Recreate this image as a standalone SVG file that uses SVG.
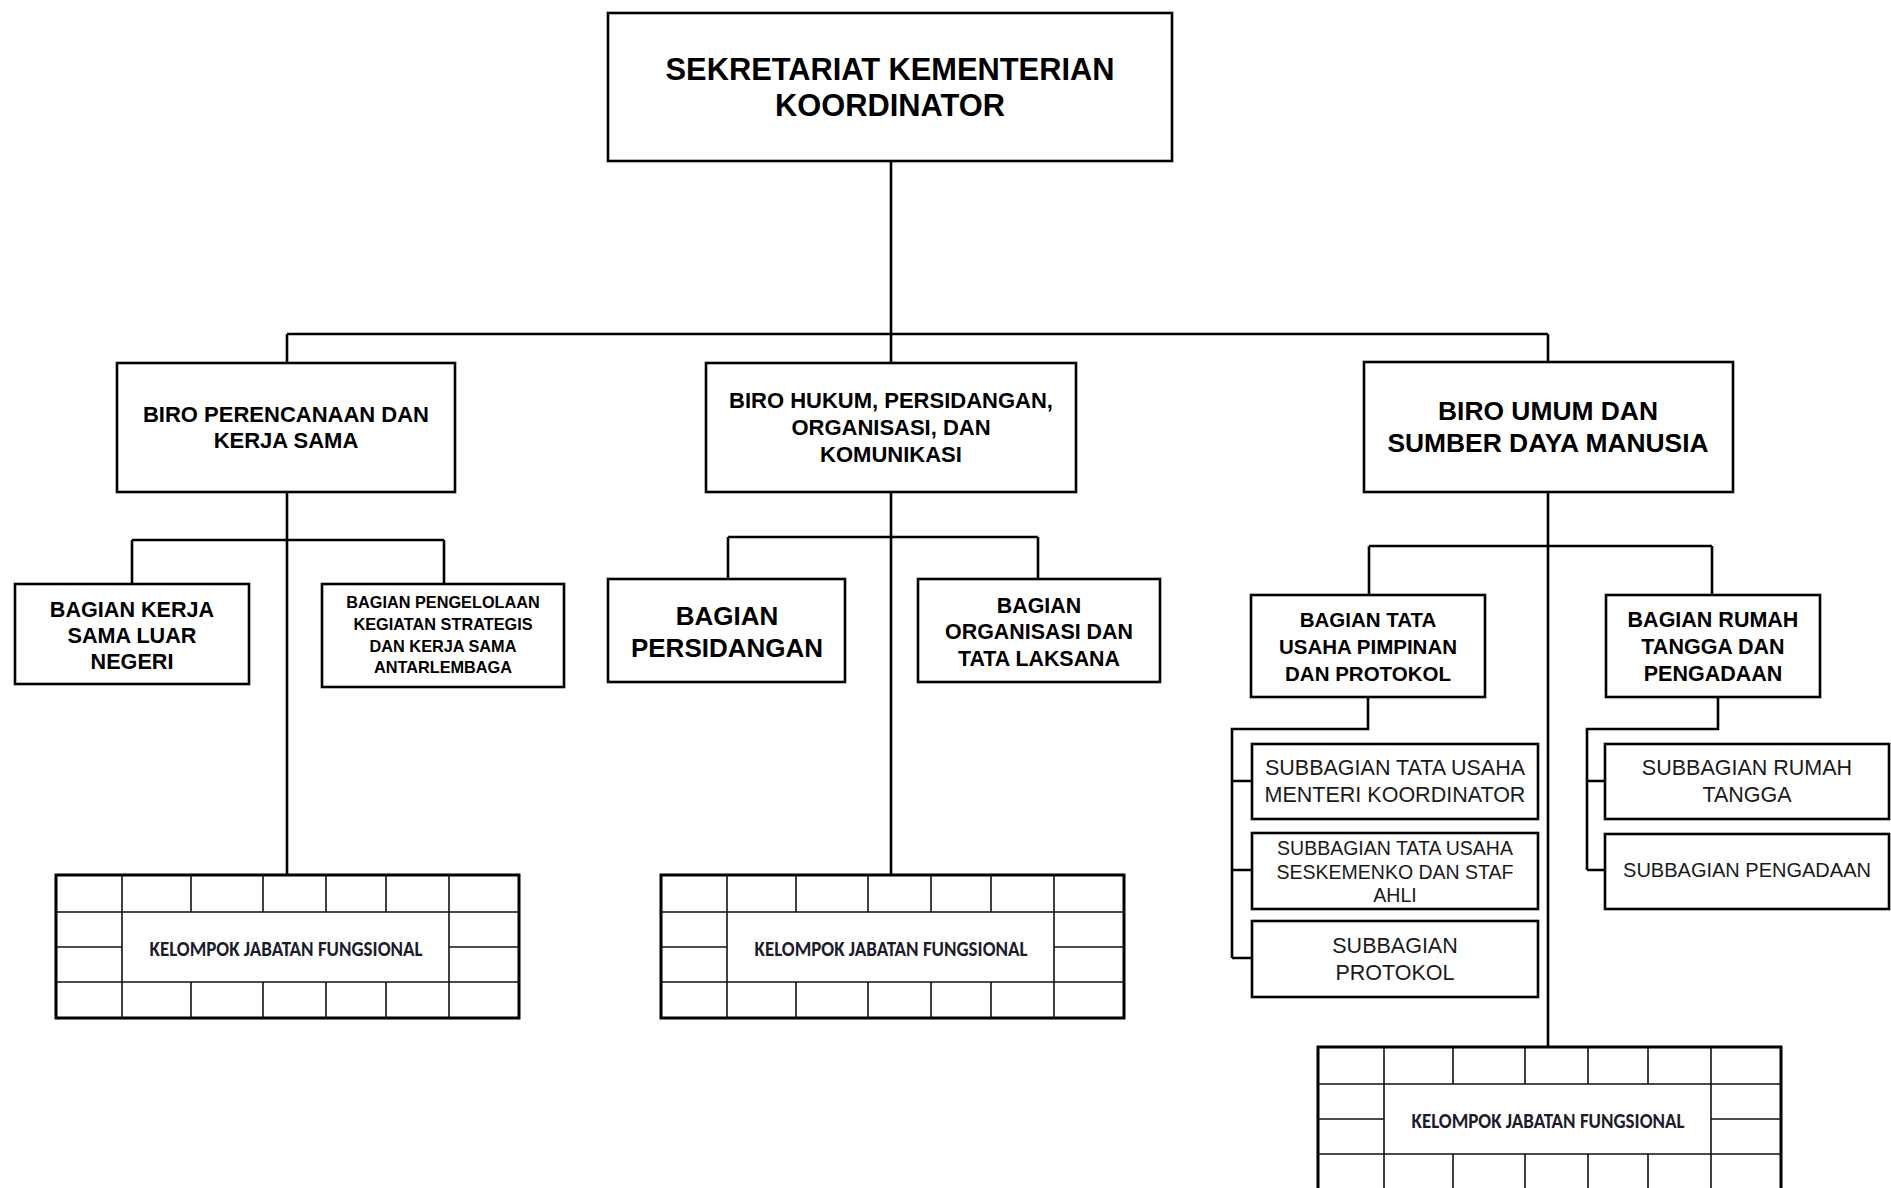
<svg xmlns="http://www.w3.org/2000/svg" xmlns:xlink="http://www.w3.org/1999/xlink" width="1891" height="1188" viewBox="0 0 1891 1188">
<style>
.box{fill:#fff;stroke:#000;stroke-width:2.6}
.con{fill:none;stroke:#000;stroke-width:2.6}
.b{font-family:"Liberation Sans",Arial,sans-serif;font-weight:bold;fill:#000;text-anchor:middle}
.r{font-family:"Liberation Sans",Arial,sans-serif;fill:#1a1a1a;text-anchor:middle}
.k{font-family:"Carlito","Lato","Liberation Sans",sans-serif;font-weight:bold;fill:#1b1b2b;text-anchor:middle}
.gi{stroke:#111;stroke-width:1.6;fill:none}
.go{stroke:#000;stroke-width:2.6;fill:#fff}
</style>
<defs>
<g id="grid">
<rect class="go" x="0" y="0" width="463" height="143"/>
<path class="gi" d="M0 37H463M0 107H463M0 72H66M393 72H463M66 0V143M393 0V143M135 0V37M207 0V37M270 0V37M330 0V37M135 107V143M207 107V143M270 107V143M330 107V143"/>
<rect class="go" x="0" y="0" width="463" height="143" style="fill:none"/>
</g>
</defs>

<g id="connectors">
<path class="con" d="M891 161V334M287 334H1548M287 334V363M891 334V363M1548 334V362"/>
<path class="con" d="M287 492V875M132 540H444M132 540V584M444 540V584"/>
<path class="con" d="M891 492V875M728 537H1038M728 537V579M1038 537V579"/>
<path class="con" d="M1548 492V1047M1369 546H1712M1369 546V595M1712 546V595"/>
<path class="con" d="M1368 697V729H1232V958M1232 781H1252M1232 870H1252M1232 958H1252"/>
<path class="con" d="M1718 697V729H1587V870M1587 781H1605M1587 870H1605"/>
</g>

<g id="sekretariat">
<rect class="box" x="608" y="13" width="564" height="148"/>
<text class="b" font-size="30.8" x="890" y="80">SEKRETARIAT KEMENTERIAN</text>
<text class="b" font-size="30.8" x="890" y="116">KOORDINATOR</text>
</g>

<g id="biro-perencanaan">
<rect class="box" x="117" y="363" width="338" height="129"/>
<text class="b" font-size="22" x="286" y="422">BIRO PERENCANAAN DAN</text>
<text class="b" font-size="22" x="286" y="448">KERJA SAMA</text>
</g>

<g id="biro-hukum">
<rect class="box" x="706" y="363" width="370" height="129"/>
<text class="b" font-size="22" x="891" y="408">BIRO HUKUM, PERSIDANGAN,</text>
<text class="b" font-size="22" x="891" y="435">ORGANISASI, DAN</text>
<text class="b" font-size="22" x="891" y="462">KOMUNIKASI</text>
</g>

<g id="biro-umum">
<rect class="box" x="1364" y="362" width="369" height="130"/>
<text class="b" font-size="26.4" x="1548" y="420">BIRO UMUM DAN</text>
<text class="b" font-size="26.4" x="1548" y="452">SUMBER DAYA MANUSIA</text>
</g>

<g id="bagian-kerja-sama-luar-negeri">
<rect class="box" x="15" y="584" width="234" height="100"/>
<text class="b" font-size="21.6" x="132" y="617">BAGIAN KERJA</text>
<text class="b" font-size="21.6" x="132" y="643">SAMA LUAR</text>
<text class="b" font-size="21.6" x="132" y="669">NEGERI</text>
</g>

<g id="bagian-pengelolaan">
<rect class="box" x="322" y="584" width="242" height="103"/>
<text class="b" font-size="16.3" x="443" y="608">BAGIAN PENGELOLAAN</text>
<text class="b" font-size="16.3" x="443" y="630">KEGIATAN STRATEGIS</text>
<text class="b" font-size="16.3" x="443" y="652">DAN KERJA SAMA</text>
<text class="b" font-size="16.3" x="443" y="673">ANTARLEMBAGA</text>
</g>

<g id="bagian-persidangan">
<rect class="box" x="608" y="579" width="237" height="103"/>
<text class="b" font-size="26" x="727" y="625">BAGIAN</text>
<text class="b" font-size="26" x="727" y="657">PERSIDANGAN</text>
</g>

<g id="bagian-organisasi">
<rect class="box" x="918" y="579" width="242" height="103"/>
<text class="b" font-size="21.4" x="1039" y="613">BAGIAN</text>
<text class="b" font-size="21.4" x="1039" y="639">ORGANISASI DAN</text>
<text class="b" font-size="21.4" x="1039" y="666">TATA LAKSANA</text>
</g>

<g id="bagian-tata-usaha">
<rect class="box" x="1251" y="595" width="234" height="102"/>
<text class="b" font-size="20.5" x="1368" y="627">BAGIAN TATA</text>
<text class="b" font-size="20.5" x="1368" y="654">USAHA PIMPINAN</text>
<text class="b" font-size="20.5" x="1368" y="681">DAN PROTOKOL</text>
</g>

<g id="bagian-rumah-tangga">
<rect class="box" x="1606" y="595" width="214" height="102"/>
<text class="b" font-size="21.5" x="1713" y="627">BAGIAN RUMAH</text>
<text class="b" font-size="21.5" x="1713" y="654">TANGGA DAN</text>
<text class="b" font-size="21.5" x="1713" y="681">PENGADAAN</text>
</g>

<g id="subbagian-tu-menteri">
<rect class="box" x="1252" y="744" width="286" height="75"/>
<text class="r" font-size="21.5" x="1395" y="775">SUBBAGIAN TATA USAHA</text>
<text class="r" font-size="21.5" x="1395" y="802">MENTERI KOORDINATOR</text>
</g>

<g id="subbagian-tu-seskemenko">
<rect class="box" x="1252" y="833" width="286" height="76"/>
<text class="r" font-size="19.5" x="1395" y="855">SUBBAGIAN TATA USAHA</text>
<text class="r" font-size="19.5" x="1395" y="879">SESKEMENKO DAN STAF</text>
<text class="r" font-size="19.5" x="1395" y="902">AHLI</text>
</g>

<g id="subbagian-protokol">
<rect class="box" x="1252" y="921" width="286" height="76"/>
<text class="r" font-size="21.5" x="1395" y="953">SUBBAGIAN</text>
<text class="r" font-size="21.5" x="1395" y="980">PROTOKOL</text>
</g>

<g id="subbagian-rumah-tangga">
<rect class="box" x="1605" y="744" width="284" height="75"/>
<text class="r" font-size="21.5" x="1747" y="775">SUBBAGIAN RUMAH</text>
<text class="r" font-size="21.5" x="1747" y="802">TANGGA</text>
</g>

<g id="subbagian-pengadaan">
<rect class="box" x="1605" y="834" width="284" height="75"/>
<text class="r" font-size="20" x="1747" y="877">SUBBAGIAN PENGADAAN</text>
</g>

<g id="kjf-perencanaan" transform="translate(56,875)">
<use href="#grid" xlink:href="#grid"/>
<text class="k" font-size="23" x="230" y="81" textLength="273" lengthAdjust="spacingAndGlyphs">KELOMPOK JABATAN FUNGSIONAL</text>
</g>

<g id="kjf-hukum" transform="translate(661,875)">
<use href="#grid" xlink:href="#grid"/>
<text class="k" font-size="23" x="230" y="81" textLength="273" lengthAdjust="spacingAndGlyphs">KELOMPOK JABATAN FUNGSIONAL</text>
</g>

<g id="kjf-umum" transform="translate(1318,1047)">
<use href="#grid" xlink:href="#grid"/>
<text class="k" font-size="23" x="230" y="81" textLength="273" lengthAdjust="spacingAndGlyphs">KELOMPOK JABATAN FUNGSIONAL</text>
</g>
</svg>
